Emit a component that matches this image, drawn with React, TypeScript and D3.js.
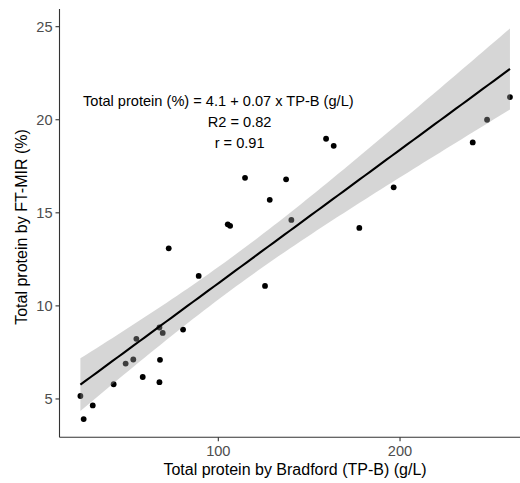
import React from "react";
import * as d3 from "d3";

const tpB: number[] = [24.1, 25.9, 30.9, 42.4, 49.0, 53.2, 54.9, 58.4, 67.6, 67.9, 67.6, 69.4, 72.7, 80.6, 89.2, 105.2, 106.5, 114.7, 125.7, 128.3, 137.3, 140.2, 159.3, 163.5, 177.6, 196.5, 240.0, 247.9, 260.5];
const ftMir: number[] = [5.16, 3.92, 4.65, 5.79, 6.90, 7.12, 8.23, 6.18, 5.90, 7.10, 8.84, 8.55, 13.09, 8.73, 11.61, 14.38, 14.30, 16.88, 11.07, 15.70, 16.80, 14.62, 18.98, 18.60, 14.19, 16.37, 18.78, 20.00, 21.22];
const xTicks: number[] = [100, 200];
const yTicks: number[] = [5, 10, 15, 20, 25];
const annotLines: string[] = ["Total protein (%) = 4.1 + 0.07 x TP-B (g/L)", "R2 = 0.82", "r = 0.91"];
const xTitle = "Total protein by Bradford (TP-B) (g/L)";
const yTitle = "Total protein by FT-MIR (%)";

const W = 520, H = 483;
const FONT = "'Liberation Sans', Arial, sans-serif";

export default function App() {
  const left = 59.5, right = 532.5, top = 9, bottom = 437.3;
  const x = d3.scaleLinear().domain([12.6, 272.9]).range([left, right]);
  const y = d3.scaleLinear().domain([2.94, 25.95]).range([bottom, top]);

  const n = tpB.length;
  const xbar = d3.mean(tpB) as number;
  const ybar = d3.mean(ftMir) as number;
  let sxx = 0, sxy = 0;
  for (let i = 0; i < n; i++) {
    sxx += (tpB[i] - xbar) ** 2;
    sxy += (tpB[i] - xbar) * (ftMir[i] - ybar);
  }
  const b = sxy / sxx;
  const a = ybar - b * xbar;
  let sse = 0;
  for (let i = 0; i < n; i++) sse += (ftMir[i] - a - b * tpB[i]) ** 2;
  const s = Math.sqrt(sse / (n - 2));
  const tq = 2.0518;
  const xmin = d3.min(tpB) as number, xmax = d3.max(tpB) as number;
  const grid = d3.range(0, 81).map((i) => xmin + ((xmax - xmin) * i) / 80);
  const band = grid.map((xv) => {
    const fit = a + b * xv;
    const se = s * Math.sqrt(1 / n + (xv - xbar) ** 2 / sxx);
    return { xv, fit, lo: fit - tq * se, hi: fit + tq * se };
  });
  const area = d3.area<any>().x((d) => x(d.xv)).y0((d) => y(d.lo)).y1((d) => y(d.hi));
  const line = d3.line<any>().x((d) => x(d.xv)).y((d) => y(d.fit));

  return (
    <svg width={W} height={H} style={{ position: "absolute", left: 0, top: 0, background: "#fff" }} fontFamily={FONT}>
      <rect width={W} height={H} fill="#fff" />
      {tpB.map((xv, i) => (
        <circle key={i} cx={x(xv)} cy={y(ftMir[i])} r={2.9} fill="#000" />
      ))}
      <path d={area(band) || ""} fill="#999999" fillOpacity={0.4} />
      <path d={line(band) || ""} fill="none" stroke="#000" strokeWidth={2.1} />

      <line x1={left} x2={left} y1={top} y2={bottom} stroke="#333" strokeWidth={1.1} />
      <line x1={left} x2={W} y1={bottom} y2={bottom} stroke="#333" strokeWidth={1.1} />
      {yTicks.map((t) => (
        <g key={t}>
          <line x1={left - 4} x2={left} y1={y(t)} y2={y(t)} stroke="#333" strokeWidth={1.1} />
          <text x={left - 7} y={y(t)} dy="0.36em" textAnchor="end" fontSize={14.6} fill="#4D4D4D">{t}</text>
        </g>
      ))}
      {xTicks.map((t) => (
        <g key={t}>
          <line x1={x(t)} x2={x(t)} y1={bottom} y2={bottom + 4} stroke="#333" strokeWidth={1.1} />
          <text x={x(t)} y={456} textAnchor="middle" fontSize={14.6} fill="#4D4D4D">{t}</text>
        </g>
      ))}
      <text x={295} y={475} textAnchor="middle" fontSize={16} fill="#000">{xTitle}</text>
      <text transform={`translate(27,227) rotate(-90)`} textAnchor="middle" fontSize={16} fill="#000">{yTitle}</text>

      <text x={218.3} y={105.5} textAnchor="middle" fontSize={14.6} fill="#000">{annotLines[0]}</text>
      <text x={239.6} y={126.5} textAnchor="middle" fontSize={14.6} fill="#000">{annotLines[1]}</text>
      <text x={239.6} y={147.5} textAnchor="middle" fontSize={14.6} fill="#000">{annotLines[2]}</text>
    </svg>
  );
}
